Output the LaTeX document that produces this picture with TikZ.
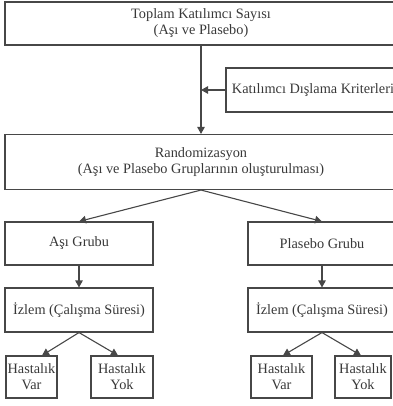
\documentclass[tikz,border=0pt]{standalone}
\usepackage{fontspec}
\setmainfont{Liberation Serif}
\usetikzlibrary{arrows.meta}

\begin{document}
\begin{tikzpicture}[x=1pt,y=-1pt]
    % Styles
    \tikzstyle{box} = [draw=line color,line width=1.1pt,inner sep=0pt,align=center,
        text=text color,font=\fontsize{14.3}{16}\selectfont]
    \tikzstyle{flow} = [draw=line color,line width=1.1pt,-{Triangle[length=7pt,width=7.5pt]}]

    % Colors
    \colorlet{line color}{black!72}
    \colorlet{text color}{black!78}

    \useasboundingbox (0,0) rectangle (392,406);

    %%% Boxes
    \node[box,minimum width=392,minimum height=43] (total) at (201,23.5)
        {Toplam Katılımcı Sayısı\\(Aşı ve Plasebo)};
    \node[box,minimum width=174,minimum height=44] (excl) at (313,90)
        {Katılımcı Dışlama Kriterleri};
    \node[box,minimum width=392,minimum height=55] (rand) at (201,162)
        {Randomizasyon\\(Aşı ve Plasebo Gruplarının oluşturulması)};

    \node[box,minimum width=148,minimum height=43] (asi) at (79,243.5) {Aşı Grubu};
    \node[box,minimum width=148,minimum height=43] (plasebo) at (322,243.5) {Plasebo Grubu};

    \node[box,minimum width=148,minimum height=44] (izlemA) at (79,310) {İzlem (Çalışma Süresi)};
    \node[box,minimum width=148,minimum height=44] (izlemP) at (322,310) {İzlem (Çalışma Süresi)};

    \node[box,minimum width=51,minimum height=42] (varA) at (31.5,377) {Hastalık\\Var};
    \node[box,minimum width=62,minimum height=42] (yokA) at (122,377) {Hastalık\\Yok};
    \node[box,minimum width=61,minimum height=42] (varP) at (281.5,377) {Hastalık\\Var};
    \node[box,minimum width=56,minimum height=42] (yokP) at (363,377) {Hastalık\\Yok};
    %%%

    %%% Arrows
    \draw[flow] (total.south) -- (rand.north);
    \draw[flow] (excl.west) -- (total.south |- excl.west);

    \draw[flow] (rand.south) -- (asi.north);
    \draw[flow] (rand.south) -- (plasebo.north);
    \draw[flow] (asi.south) -- (izlemA.north);
    \draw[flow] (plasebo.south) -- (izlemP.north);

    \draw[flow] (izlemA.south) -- ([xshift=10.5pt]varA.north);
    \draw[flow] (izlemA.south) -- ([xshift=-4pt]yokA.north);
    \draw[flow] (izlemP.south) -- ([xshift=1.5pt]varP.north);
    \draw[flow] (izlemP.south) -- ([xshift=-2pt]yokP.north);
    %%%
\end{tikzpicture}
\end{document}
